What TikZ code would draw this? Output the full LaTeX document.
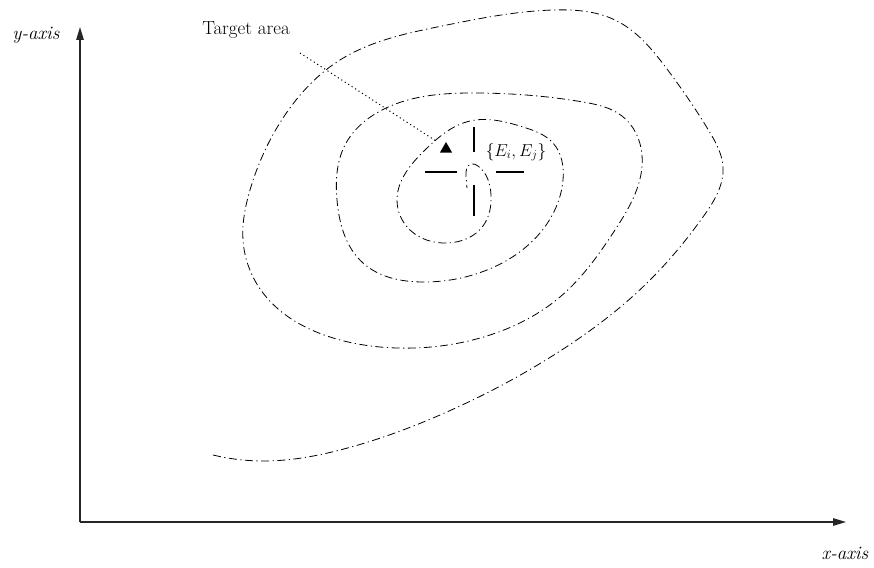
\documentclass[tikz,border=0pt]{standalone}
\usetikzlibrary{arrows.meta,shapes.geometric,hobby}
\begin{document}
\begin{tikzpicture}[x=1pt,y=-1pt,
  axis/.style={line width=1.3pt,draw=black!85,-{Triangle[length=13pt,width=7.5pt]}},
  contour/.style={line width=0.8pt,dash pattern=on 8pt off 3.5pt on 1.2pt off 3.5pt},
  crossline/.style={line width=2pt},
  lbl/.style={inner sep=0pt,font=\fontsize{19}{22}\selectfont},
  ilbl/.style={inner sep=0pt,font=\fontsize{19}{22}\selectfont\itshape},
  pointer/.style={line width=1pt,dash pattern=on 1.1pt off 3pt}]
\useasboundingbox (0,0) rectangle (874,567);
% axes
\coordinate (O) at (80,522);
\coordinate (Y) at (80,27);
\coordinate (X) at (846,522);
\draw[axis] (O) -- (Y);
\draw[axis] (O) -- (X);
\node[ilbl] (ylab) at (36,35) {y-axis};
\node[ilbl] (xlab) at (845,553) {x-axis};
% spiral contour
\draw[contour,use Hobby shortcut]
 (213,455) .. (265,461) .. (340,450) .. (440,415) .. (557,353)
 .. (647,283) .. (703,217) .. (723,167) .. (709,131) .. (667,69)
 .. (615,20) .. (553,10) .. (442,26) .. (340,60)
 .. (285,115) .. (250,190) .. (243,240) .. (263,293) .. (330,337)
 .. (397,348) .. (490,335) .. (560,297) .. (615,230) .. (642,155)
 .. (622,116) .. (583,102) .. (477,93) .. (382,110) .. (345,145)
 .. (337,200) .. (363,263) .. (423,282) .. (487,270) .. (540,233)
 .. (563,180) .. (553,143) .. (523,127) .. (470,121) .. (425,150)
 .. (397,200) .. (410,230) .. (447,243) .. (483,226) .. (491,195)
 .. (478,166) .. (471,164) .. (466,176) .. (467,188);
% crosshair
\coordinate (c) at (474,172);
\draw[crossline] (c) ++(0,-45) -- ++(0,25);
\draw[crossline] (c) ++(0,13) -- ++(0,31);
\draw[crossline] (c) ++(-49,0) -- ++(32,0);
\draw[crossline] (c) ++(22,0) -- ++(28,0);
% target pointer
\node[lbl] (tgt) at (246,30) {Target area};
\coordinate (ds) at (300,53);
\coordinate (de) at (436,141);
\draw[pointer] (ds) -- (de);
\node[fill,regular polygon,regular polygon sides=3,minimum size=14pt,inner sep=0pt] (tri) at (446,149) {};
\node[lbl,font=\fontsize{16.5}{19}\selectfont] (eij) at (516,152) {$\{E_i, E_j\}$};
\end{tikzpicture}
\end{document}
